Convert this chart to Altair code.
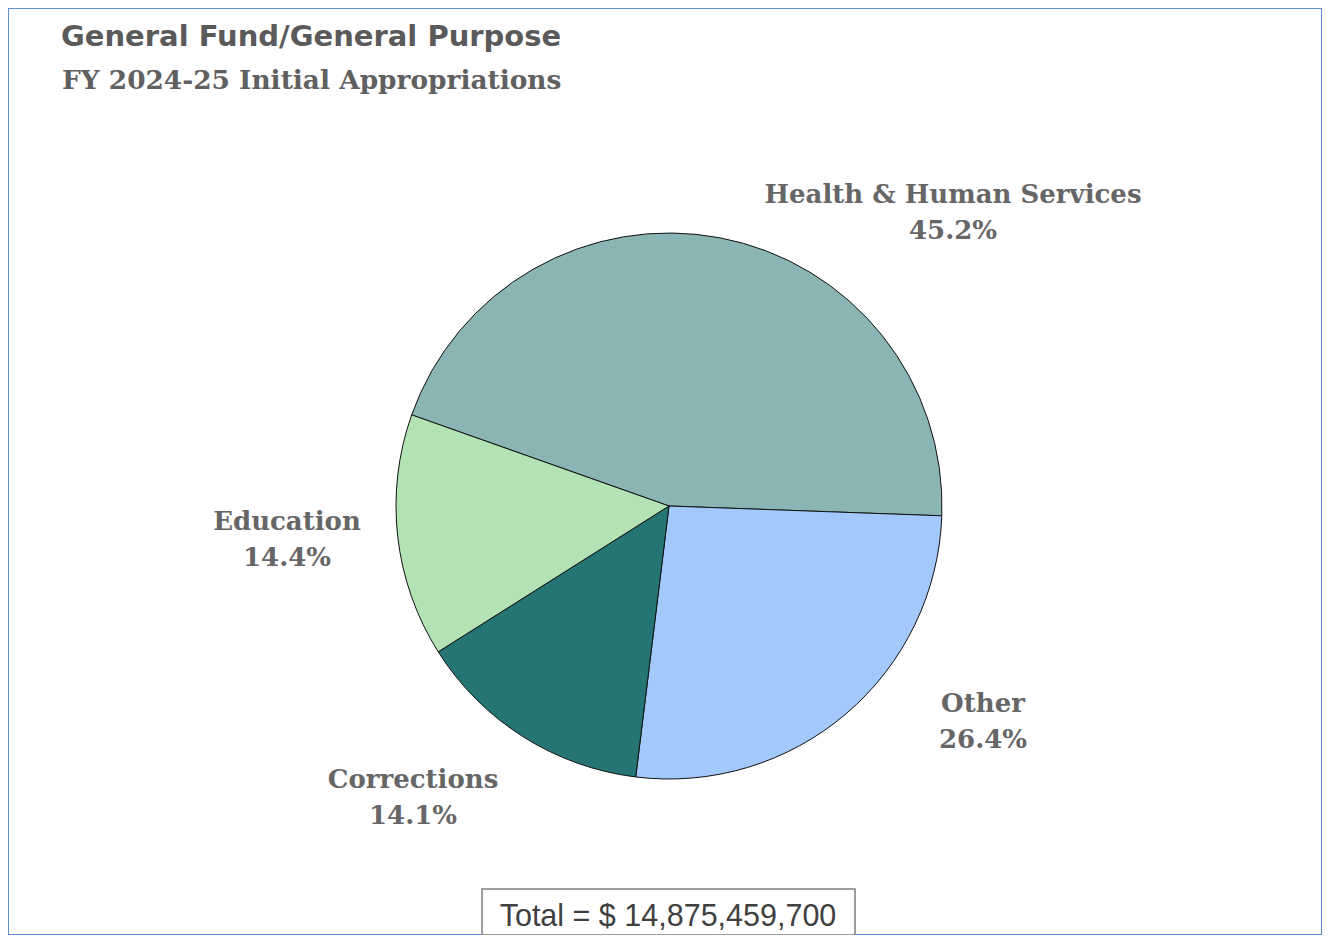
import math
import altair as alt
import pandas as pd

# ---- data ----
categories = ["Health & Human Services", "Other", "Corrections", "Education"]
shares = [45.2, 26.4, 14.1, 14.4]
slice_order = [0, 1, 2, 3]
colors = ["#8AB5B4", "#A2C8FC", "#247573", "#B3E2B5"]
title_text = ["General Fund/General Purpose"]
subtitle_text = ["FY 2024-25 Initial Appropriations"]
total_text = ["Total = $ 14,875,459,700"]

df = pd.DataFrame({"category": categories, "share": shares, "order": slice_order})

W, H = 1314, 927
CX, CY, R = 661, 498, 273
start = math.radians(289.5)

base = alt.Chart(df)

pie = base.mark_arc(outerRadius=R, stroke="#111111", strokeWidth=1).encode(
    theta=alt.Theta("share:Q", stack=True,
                    scale=alt.Scale(range=[start, start + 2 * math.pi])),
    color=alt.Color("category:N",
                    scale=alt.Scale(domain=categories, range=colors),
                    legend=None),
    order=alt.Order("order:Q"),
    x=alt.value(CX),
    y=alt.value(CY),
)

label_font = "DejaVu Serif"
label_color = "#666666"

# layout (annotation placement) for each category label
label_xy = {
    "Health & Human Services": (945, 195),
    "Other": (975, 704),
    "Corrections": (405, 780),
    "Education": (279, 522),
}

label_layers = []
for cat, (lx, ly) in label_xy.items():
    lay = base.transform_filter(
        alt.datum.category == cat
    ).transform_calculate(
        label="datum.category + '\\n' + format(datum.share, '.1f') + '%'"
    ).mark_text(
        font=label_font, fontSize=26, fontWeight="bold", color=label_color,
        align="center", baseline="alphabetic", lineBreak="\n", lineHeight=36,
    ).encode(
        text="label:N",
        x=alt.value(lx),
        y=alt.value(ly),
    )
    label_layers.append(lay)

title = alt.Chart(pd.DataFrame({"t": title_text})).mark_text(
    font="DejaVu Sans", fontSize=29, fontWeight="bold", color="#5A5A5A",
    align="left", baseline="alphabetic",
).encode(text="t:N", x=alt.value(53), y=alt.value(38))

subtitle = alt.Chart(pd.DataFrame({"t": subtitle_text})).mark_text(
    font=label_font, fontSize=26.4, fontWeight="bold", color="#606060",
    align="left", baseline="alphabetic",
).encode(text="t:N", x=alt.value(54), y=alt.value(81))

total_box = alt.Chart(pd.DataFrame({"t": total_text})).mark_rect(
    fill="white", stroke="#7F7F7F", strokeWidth=1.5,
).encode(x=alt.value(474), x2=alt.value(847), y=alt.value(881), y2=alt.value(927))

total_label = alt.Chart(pd.DataFrame({"t": total_text})).mark_text(
    font="Liberation Sans", fontSize=30.5, color="#404040",
    align="center", baseline="alphabetic",
).encode(text="t:N", x=alt.value(660), y=alt.value(918))

chart = alt.layer(pie, *label_layers, title, subtitle, total_box, total_label).properties(
    width=W, height=H, autosize=alt.AutoSizeParams(type="none"), padding=0,
).configure_view(stroke="#5E8FD5", strokeWidth=2)

chart.save("out.html", embed_options={"renderer": "svg", "actions": False})
